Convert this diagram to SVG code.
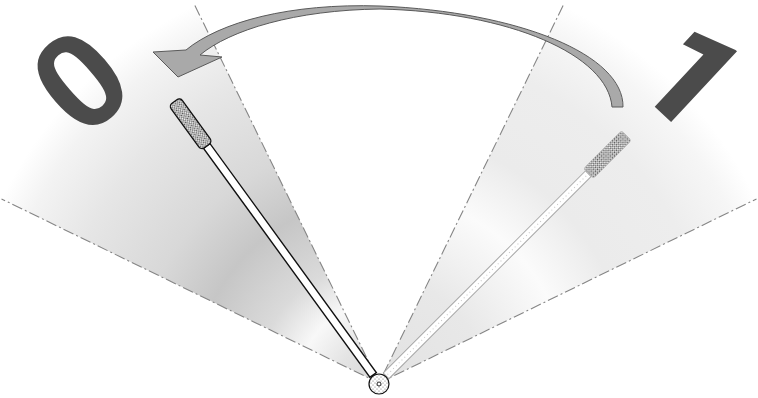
<svg xmlns="http://www.w3.org/2000/svg" width="758" height="398" viewBox="0 0 758 398">
<defs>
<radialGradient id="gL" gradientUnits="userSpaceOnUse" cx="379" cy="383" r="420">
<stop offset="0" stop-color="#d6d6d6"/>
<stop offset="0.1" stop-color="#e4e4e4"/>
<stop offset="0.19" stop-color="#f8f8f8"/>
<stop offset="0.29" stop-color="#dadada"/>
<stop offset="0.44" stop-color="#c6c6c6"/>
<stop offset="0.58" stop-color="#d8d8d8"/>
<stop offset="0.78" stop-color="#e6e6e6"/>
<stop offset="0.92" stop-color="#f3f3f3"/>
<stop offset="1" stop-color="#ffffff"/>
</radialGradient>
<radialGradient id="gR" gradientUnits="userSpaceOnUse" cx="379" cy="383" r="420">
<stop offset="0" stop-color="#e2e2e2"/>
<stop offset="0.25" stop-color="#e8e8e8"/>
<stop offset="0.45" stop-color="#fbfbfb"/>
<stop offset="0.6" stop-color="#ebebeb"/>
<stop offset="0.8" stop-color="#ededed"/>
<stop offset="0.93" stop-color="#f6f6f6"/>
<stop offset="1" stop-color="#ffffff"/>
</radialGradient>
<pattern id="dots" width="3" height="3" patternUnits="userSpaceOnUse">
<rect width="3" height="3" fill="#f2f2f2"/>
<circle cx="0.75" cy="0.75" r="0.75" fill="#333"/>
<circle cx="2.25" cy="2.25" r="0.75" fill="#333"/>
</pattern>
<pattern id="dotsLight" width="4" height="4" patternUnits="userSpaceOnUse">
<rect width="4" height="4" fill="#ffffff"/>
<circle cx="1" cy="1" r="0.5" fill="#555"/>
<circle cx="3" cy="3" r="0.5" fill="#555"/>
</pattern>
<style>
.edge{fill:none;stroke:#858585;stroke-width:1.1;stroke-dasharray:11 3 2 3}
.digit{font-weight:bold;fill:#4b4b4b;text-anchor:middle}
.rodA{fill:#fff;stroke:#111;stroke-width:1.4}
.rodB{fill:#fff;stroke:#a6a6a6;stroke-width:1}
</style>
</defs>
<rect width="758" height="398" fill="#fff"/>
<g id="sector-0">
<path d="M379,383 L194.9,5.5 A420,420 0 0 0 1.5,198.9 Z" fill="url(#gL)"/>
<path class="edge" d="M194.9,5.5 L379,383 L1.5,198.9"/>
</g>
<g id="sector-1">
<path d="M379,383 L563.1,5.5 A420,420 0 0 1 756.5,198.9 Z" fill="url(#gR)"/>
<path class="edge" d="M563.1,5.5 L379,383 L756.5,198.9"/>
</g>
<g id="label-0">
<text class="digit" transform="translate(79,79) rotate(-41)" x="0" y="49" style="font-family:'Liberation Sans',Arial,sans-serif;font-size:136px">0</text>
</g>
<g id="label-1">
<text class="digit" transform="translate(692,76) rotate(43)" x="0" y="48" style="font-family:Roboto,'Liberation Sans',sans-serif;font-weight:900;font-size:136px">1</text>
</g>
<g id="lever-1" transform="translate(379,383) rotate(45)">
<rect class="rodB" x="-4" y="-296" width="8" height="286"/>
<line x1="0" y1="-12" x2="0" y2="-294" stroke="#c4c4c4" stroke-width="1" stroke-dasharray="1 3"/>
<rect x="-7" y="-350" width="14" height="54" rx="3" fill="url(#dots)" stroke="#bbb" stroke-width="0.8"/>
</g>
<g id="lever-0" transform="translate(379,383) rotate(-36)">
<rect class="rodA" x="-4" y="-293" width="8" height="283"/>
<rect x="-7" y="-348" width="14" height="55" rx="4" fill="url(#dots)" stroke="#111" stroke-width="1.3"/>
</g>
<g id="pivot">
<circle cx="379" cy="384" r="10" fill="url(#dotsLight)" stroke="#111" stroke-width="1.2"/>
<circle cx="379" cy="384" r="2" fill="#fff" stroke="#111" stroke-width="0.9"/>
</g>
<g id="connectors">
<path d="M623,107 C624,55 520,12 380,6 C290,3 220,22 186,50 L153,52 L178,77 L222,57 L200,55 C230,30 295,10 380,9 C510,12 608,55 612,107 Z" fill="#a9a9a9" stroke="#5a5a5a" stroke-width="1" stroke-linejoin="miter"/>
</g>
</svg>
